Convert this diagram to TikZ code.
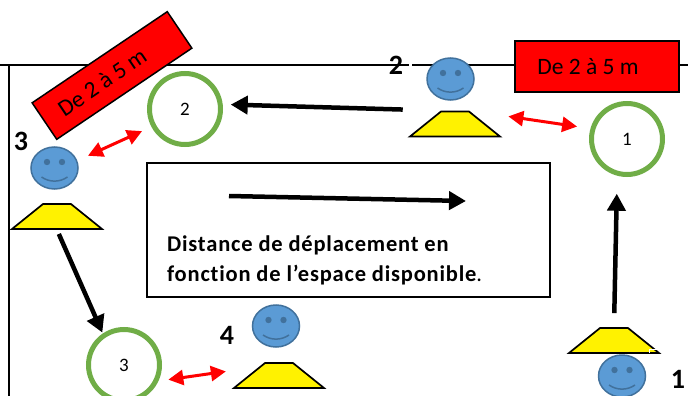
\documentclass[tikz,border=0pt]{standalone}
\usepackage{fontspec}
\setmainfont{Carlito}
\usetikzlibrary{arrows.meta,shapes.geometric}
\definecolor{facefill}{HTML}{5B9BD5}
\definecolor{faceline}{HTML}{41719C}
\definecolor{ringgreen}{HTML}{70AD47}
\tikzset{
  panneau/.style={draw=black,fill=red,line width=1.5pt,inner sep=0pt,minimum height=44pt,minimum width=163pt,font=\fontsize{23.5}{26}\selectfont},
  face/.style={ellipse,draw=faceline,fill=facefill,line width=1.5pt,minimum width=47pt,minimum height=42pt,inner sep=1pt},
  plot/.style={trapezium,draw=black,fill=yellow,line width=1.7pt,trapezium left angle=42,trapezium right angle=42,trapezium stretches=true,minimum width=90pt,minimum height=25pt,inner sep=1pt},
  ring/.style={circle,draw=ringgreen,line width=5pt,minimum size=71pt,inner sep=0pt,font=\fontsize{19}{22}\selectfont},
  rang/.style={font=\bfseries\fontsize{28}{30}\selectfont,inner sep=0pt},
  bigarrow/.style={line width=4.5pt,-{Triangle[length=17pt,width=18pt]}},
  redarrow/.style={red,line width=3pt,{Triangle[length=15pt,width=15pt]}-{Triangle[length=15pt,width=15pt]}}
}
\begin{document}
\begin{tikzpicture}[x=1pt,y=-1pt]
  \useasboundingbox (0,0) rectangle (688,396);
  \clip (0,0) rectangle (688,396);
  \draw[line width=1.7pt] (0,65) -- (688,65) (9,65) -- (9,396);
  \draw[white,line width=2.5pt] (409,65) -- (412,65);
  \draw
    (112,75.5) node[panneau,rotate=34] (panneau3){De 2 à 5 m\hspace{24pt}\mbox{}}
    (597,66.5) node[panneau,minimum width=164pt,minimum height=51pt] (panneau1){De 2 à 5 m\hspace{18pt}\mbox{}}
    (146,162) node[draw,line width=1.5pt,anchor=north west,minimum width=403pt,minimum height=134pt] (legende){}
    (167,260) node[anchor=west,align=left,inner sep=0pt,font=\fontsize{22.5}{30}\selectfont\addfontfeature{LetterSpace=3.5,Ligatures=NoCommon}] (legendetxt){\textbf{Distance de déplacement en}\\\textbf{fonction de l’espace disponible}.}
    (229,196) coordinate (legendeA)
    (466,201) coordinate (legendeB);
  \draw
    (185,109) node[ring] (cible2){2}
    (627,139) node[ring] (cible1){1}
    (124,365) node[ring] (cible3){3};
  \draw
    (57,216.5) node[plot] (plot3){}
    (455,124) node[plot] (plot2){}
    (279,375.5) node[plot] (plot4){}
    (614,340.5) node[plot] (plot1){};
  \draw[white,line width=1pt] (649,353) -- (649,349.5) -- (657,349.5);
  \draw
    (54.5,168) node[face] (face3){}
    (450.5,79) node[face] (face2){}
    (276,326) node[face] (face4){}
    (622,376) node[face] (face1){};
  \foreach \f in {face1,face2,face3,face4} {
    \fill[faceline] ([shift={(-7.5,-6)}]\f.center) circle (3.2pt);
    \fill[faceline] ([shift={(7.5,-6)}]\f.center) circle (3.2pt);
    \draw[faceline,line width=1.5pt] ([shift={(-13,9)}]\f.center) .. controls ([shift={(-5,14.5)}]\f.center) and ([shift={(5,14.5)}]\f.center) .. ([shift={(13,9)}]\f.center);
  }
  \draw
    (21,141) node[rang] (rang3){3}
    (396,65) node[rang] (rang2){2}
    (227,335) node[rang] (rang4){4}
    (678,379) node[rang] (rang1){1};
  \begin{scope}[bigarrow]
    \draw (legendeA) -- (legendeB);
    \draw[shorten <=38pt,shorten >=8pt] (plot2.top left corner) -- (cible2.7);
    \draw[shorten <=4.5pt,shorten >=1pt] (plot3.south) -- (cible3.124);
    \draw[shorten <=14pt,shorten >=18pt] (plot1.north) -- (cible1.-105);
  \end{scope}
  \begin{scope}[redarrow]
    \draw[shorten <=11.7pt,shorten >=10.3pt] (face3.18) -- (cible2.208);
    \draw[shorten <=39.5pt,shorten >=13.5pt] (plot2.top right corner) -- (cible1.164);
    \draw[shorten <=10pt,shorten >=33.6pt] (cible3.-25) -- (plot4.156);
  \end{scope}
\end{tikzpicture}
\end{document}
